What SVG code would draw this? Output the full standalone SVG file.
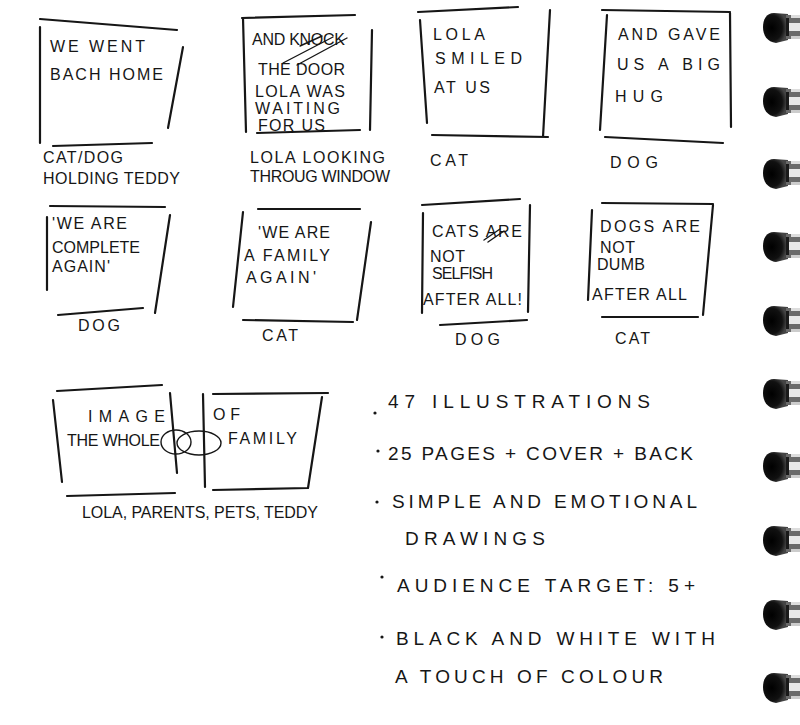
<svg xmlns="http://www.w3.org/2000/svg" width="800" height="725" viewBox="0 0 800 725">
<defs>
<style>
.f{fill:none;stroke:#161616;stroke-width:2.2;stroke-linecap:round;stroke-linejoin:round}
.t{font-family:"Liberation Sans","DejaVu Sans",sans-serif;font-size:16px;fill:#161616;lengthAdjust:spacing}
.b{font-family:"Liberation Sans","DejaVu Sans",sans-serif;font-size:19px;fill:#161616}
.s{fill:none;stroke:#161616;stroke-width:1.4;stroke-linecap:round}
</style>
<radialGradient id="rg" cx="0.35" cy="0.5" r="0.6">
<stop offset="0" stop-color="#000"/>
<stop offset="0.7" stop-color="#111"/>
<stop offset="1" stop-color="#444"/>
</radialGradient>
<g id="ring">
<path d="M 24 -13 L 10 -14 C 2 -14 -1 -7 -1 0 C -1 8 3 15 12 16 L 24 13 Z" fill="url(#rg)"/>
<rect x="22" y="-12" width="15" height="24" fill="#6a6a6a"/>
<rect x="23" y="-4" width="14" height="8" fill="#e8e8e8"/>
<rect x="27" y="-12" width="10" height="3" fill="#ddd"/>
<rect x="27" y="9" width="10" height="3" fill="#ccc"/>
<rect x="22" y="-9" width="3" height="18" fill="#1a1a1a"/>
</g>
</defs>
<rect width="800" height="725" fill="#fff"/>

<g id="panel1">
<path class="f" d="M40 19 L177 30 M40 27 L40 143 M183 47 L168 128 M53 146 L152 143"/>
<text class="t" x="50" y="52" textLength="95" lengthAdjust="spacing">WE WENT</text>
<text class="t" x="50" y="80" textLength="113" lengthAdjust="spacing">BACH HOME</text>
<text class="t" x="43" y="163" textLength="80" lengthAdjust="spacing">CAT/DOG</text>
<text class="t" x="43" y="184" textLength="137" lengthAdjust="spacing">HOLDING TEDDY</text>
</g>

<g id="panel2">
<path class="f" d="M242 18 L355 15 M243 18 L246 132 M372 30 L370 130 M257 133 L360 130"/>
<text class="t" x="252" y="45" textLength="93" lengthAdjust="spacing">AND KNOCK</text>
<path class="s" d="M283 63 L333 37 M297 65 L347 38 M300 46 L322 36"/>
<text class="t" x="258" y="75" textLength="87" lengthAdjust="spacing">THE DOOR</text>
<text class="t" x="255" y="97" textLength="90" lengthAdjust="spacing">LOLA WAS</text>
<text class="t" x="255" y="114" textLength="85" lengthAdjust="spacing">WAITING</text>
<text class="t" x="258" y="131" textLength="67" lengthAdjust="spacing">FOR US</text>
<text class="t" x="250" y="163" textLength="135" lengthAdjust="spacing">LOLA LOOKING</text>
<text class="t" x="250" y="182" textLength="140" lengthAdjust="spacing">THROUG WINDOW</text>
</g>

<g id="panel3">
<path class="f" d="M418 12 L518 7 M420 20 L427 123 M550 10 L543 137 M432 135 L548 137"/>
<text class="t" x="433" y="40" textLength="52" lengthAdjust="spacing">LOLA</text>
<text class="t" x="435" y="64" textLength="87" lengthAdjust="spacing">SMILED</text>
<text class="t" x="434" y="93" textLength="56" lengthAdjust="spacing">AT US</text>
<text class="t" x="430" y="166" textLength="38" lengthAdjust="spacing">CAT</text>
</g>

<g id="panel4">
<path class="f" d="M602 10 L730 12 M607 15 L600 130 M730 13 L731 127 M605 137 L723 143"/>
<text class="t" x="618" y="40" textLength="102" lengthAdjust="spacing">AND GAVE</text>
<text class="t" x="617" y="70" textLength="103" lengthAdjust="spacing">US A BIG</text>
<text class="t" x="615" y="102" textLength="48" lengthAdjust="spacing">HUG</text>
<text class="t" x="610" y="168" textLength="48" lengthAdjust="spacing">DOG</text>
</g>

<g id="panel5">
<path class="f" d="M50 206 L165 207 M47 217 L47 290 M170 215 L155 313 M58 315 L143 308"/>
<text class="t" x="52" y="229" textLength="75" lengthAdjust="spacing">'WE ARE</text>
<text class="t" x="52" y="253" textLength="88" lengthAdjust="spacing">COMPLETE</text>
<text class="t" x="52" y="272" textLength="58" lengthAdjust="spacing">AGAIN'</text>
<text class="t" x="78" y="331" textLength="42" lengthAdjust="spacing">DOG</text>
</g>

<g id="panel6">
<path class="f" d="M258 209 L360 209 M243 212 L233 307 M371 222 L357 320 M243 320 L353 322"/>
<text class="t" x="258" y="238" textLength="72" lengthAdjust="spacing">'WE ARE</text>
<text class="t" x="244" y="261" textLength="86" lengthAdjust="spacing">A FAMILY</text>
<text class="t" x="246" y="283" textLength="70" lengthAdjust="spacing">AGAIN'</text>
<text class="t" x="262" y="341" textLength="36" lengthAdjust="spacing">CAT</text>
</g>

<g id="panel7">
<path class="f" d="M422 205 L520 199 M423 213 L422 313 M530 205 L528 312 M440 325 L527 320"/>
<text class="t" x="432" y="237" textLength="90" lengthAdjust="spacing">CATS ARE</text>
<path class="s" d="M484 240 L500 229 M488 242 L504 231"/>
<text class="t" x="430" y="262" textLength="35" lengthAdjust="spacing">NOT</text>
<text class="t" x="432" y="279" textLength="61" lengthAdjust="spacing">SELFISH</text>
<text class="t" x="423" y="305" textLength="99" lengthAdjust="spacing">AFTER ALL!</text>
<text class="t" x="455" y="345" textLength="45" lengthAdjust="spacing">DOG</text>
</g>

<g id="panel8">
<path class="f" d="M602 203 L713 204 M592 210 L588 300 M713 205 L703 315 M602 317 L698 317"/>
<text class="t" x="600" y="232" textLength="100" lengthAdjust="spacing">DOGS ARE</text>
<text class="t" x="600" y="253" textLength="35" lengthAdjust="spacing">NOT</text>
<text class="t" x="597" y="270" textLength="48" lengthAdjust="spacing">DUMB</text>
<text class="t" x="592" y="300" textLength="95" lengthAdjust="spacing">AFTER ALL</text>
<text class="t" x="615" y="344" textLength="35" lengthAdjust="spacing">CAT</text>
</g>

<g id="panel9">
<path class="f" d="M57 391 L162 385 M53 400 L62 482 M170 393 L177 473 M67 496 L175 493"/>
<path class="f" d="M213 394 L328 393 M203 394 L205 487 M322 397 L308 488 M213 490 L308 488"/>
<ellipse class="s" cx="176" cy="442" rx="15" ry="12"/>
<ellipse class="s" cx="199" cy="443" rx="22" ry="12"/>
<text class="t" x="88" y="422" textLength="77" lengthAdjust="spacing">IMAGE</text>
<text class="t" x="67" y="446" textLength="93" lengthAdjust="spacing">THE WHOLE</text>
<text class="t" x="213" y="420" textLength="27" lengthAdjust="spacing">OF</text>
<text class="t" x="228" y="444" textLength="69" lengthAdjust="spacing">FAMILY</text>
<text class="t" x="82" y="518" textLength="236" lengthAdjust="spacing">LOLA, PARENTS, PETS, TEDDY</text>
</g>

<g id="notes">
<circle cx="375" cy="413" r="1.6" fill="#161616"/>
<text class="b" x="388" y="408" textLength="262" lengthAdjust="spacing">47 ILLUSTRATIONS</text>
<circle cx="378" cy="451" r="1.6" fill="#161616"/>
<text class="b" x="388" y="460" textLength="305" lengthAdjust="spacing">25 PAGES + COVER + BACK</text>
<circle cx="377" cy="502" r="1.6" fill="#161616"/>
<text class="b" x="392" y="508" textLength="305" lengthAdjust="spacing">SIMPLE AND EMOTIONAL</text>
<text class="b" x="405" y="545" textLength="140" lengthAdjust="spacing">DRAWINGS</text>
<circle cx="382" cy="577" r="1.6" fill="#161616"/>
<text class="b" x="397" y="592" textLength="298" lengthAdjust="spacing">AUDIENCE TARGET: 5+</text>
<circle cx="382" cy="637" r="1.6" fill="#161616"/>
<text class="b" x="396" y="645" textLength="319" lengthAdjust="spacing">BLACK AND WHITE WITH</text>
<text class="b" x="395" y="683" textLength="268" lengthAdjust="spacing">A TOUCH OF COLOUR</text>
</g>

<g id="spiral">
<use href="#ring" x="764" y="27"/>
<use href="#ring" x="764" y="101"/>
<use href="#ring" x="764" y="173"/>
<use href="#ring" x="764" y="246"/>
<use href="#ring" x="764" y="320"/>
<use href="#ring" x="764" y="393"/>
<use href="#ring" x="764" y="466"/>
<use href="#ring" x="764" y="540"/>
<use href="#ring" x="764" y="614"/>
<use href="#ring" x="764" y="687"/>
</g>
</svg>
